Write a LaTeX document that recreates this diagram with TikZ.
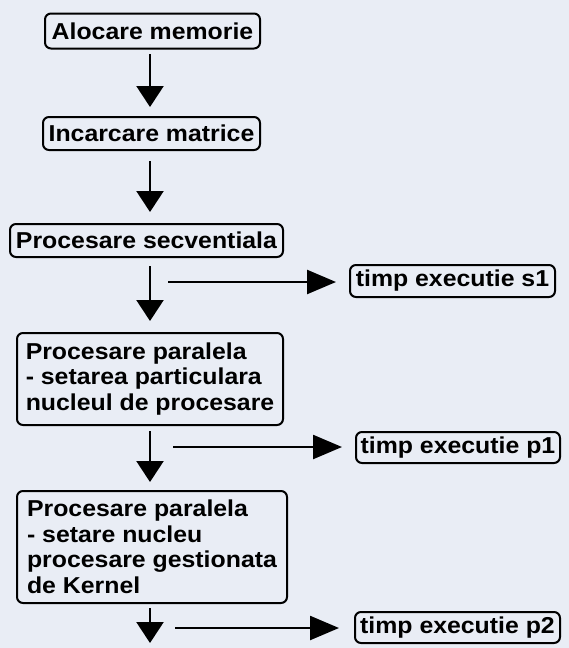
\documentclass[tikz,border=0pt]{standalone}
\usepackage{fontspec}
\setmainfont{Liberation Sans}[FakeStretch=1.08]
\usetikzlibrary{arrows.meta}
\definecolor{bg}{RGB}{233,237,245}
\begin{document}
\begin{tikzpicture}[x=1pt,y=-1pt,
  box/.style={draw=black, line width=2pt, rounded corners=6pt,
    font=\fontsize{23}{25.5}\selectfont\bfseries, inner sep=0pt, align=left},
  vflow/.style={line width=2.4pt, -{Triangle[length=21pt,width=27pt]}},
  hflow/.style={line width=2.4pt, -{Triangle[length=29pt,width=24pt]}}]
\fill[bg] (0,0) rectangle (569,648);
\useasboundingbox (0,0) rectangle (569,648);

\node[box, minimum width=215pt, minimum height=35pt] (n1) at (152.5,31) {Alocare memorie};
\node[box, minimum width=217pt, minimum height=33pt] (n2) at (151.5,133.5) {Incarcare matrice};
\node[box, minimum width=273pt, minimum height=33pt] (n3) at (146.5,240.5) {Procesare secventiala};
\node[box, minimum width=205pt, minimum height=32pt] (s1) at (452.5,281) {timp executie s1};
\node[box, minimum width=266pt, minimum height=92pt] (n4) at (150,379)
  {Procesare paralela\\- setarea particulara\\nucleul de procesare};
\node[box, minimum width=204pt, minimum height=31pt] (p1) at (458,447.5) {timp executie p1};
\node[box, minimum width=270pt, minimum height=112pt] (n5) at (152,547)
  {Procesare paralela\\- setare nucleu\\procesare gestionata\\de Kernel};
\node[box, minimum width=205pt, minimum height=31pt] (p2) at (457.5,627.5) {timp executie p2};

\coordinate (ax) at (150,0);
\coordinate (e5) at (150,643);
\coordinate (h1) at (168,282);
\coordinate (h2) at (173,447);
\coordinate (h3) at (175,628);

\draw[vflow, shorten <=4.5pt, shorten >=9pt] (n1.south -| ax) -- (n2.north -| ax);
\draw[vflow, shorten <=10pt, shorten >=11pt] (n2.south -| ax) -- (n3.north -| ax);
\draw[vflow, shorten <=8pt, shorten >=11pt] (n3.south -| ax) -- (n4.north -| ax);
\draw[vflow, shorten <=5pt, shorten >=8pt] (n4.south -| ax) -- (n5.north -| ax);
\draw[vflow, shorten <=4pt] (n5.south -| ax) -- (e5);

\draw[hflow, shorten >=13pt] (h1) -- (h1 -| s1.west);
\draw[hflow, shorten >=13pt] (h2) -- (h2 -| p1.west);
\draw[hflow, shorten >=15pt] (h3) -- (h3 -| p2.west);
\end{tikzpicture}
\end{document}
